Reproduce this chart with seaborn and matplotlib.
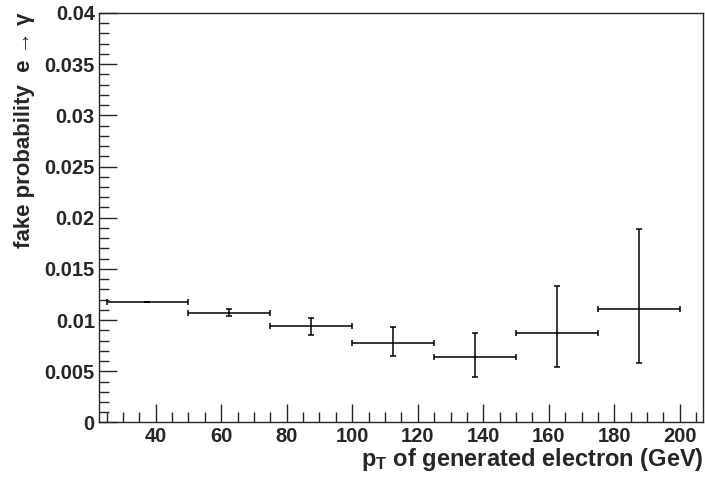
import numpy as np
import pandas as pd
import matplotlib
matplotlib.use("Agg")
import matplotlib.pyplot as plt
from matplotlib.ticker import MultipleLocator
import seaborn as sns

# bin centres / half widths (GeV) and fake probability with asymmetric errors
pt = [37.5, 62.5, 87.5, 112.5, 137.5, 162.5, 187.5]
pt_halfwidth = [12.5, 12.5, 12.5, 12.5, 12.5, 12.5, 12.5]
fake = [0.01177, 0.01072, 0.00939, 0.00779, 0.00637, 0.00874, 0.01108]
err_lo = [0.00004, 0.00032, 0.00082, 0.00130, 0.00189, 0.00335, 0.00530]
err_hi = [0.00004, 0.00036, 0.00084, 0.00151, 0.00237, 0.00459, 0.00779]

sns.set_style("ticks")
plt.rcParams["font.family"] = ["Liberation Sans", "DejaVu Sans"]
plt.rcParams["font.weight"] = "bold"
plt.rcParams["mathtext.fontset"] = "custom"
plt.rcParams["mathtext.rm"] = "Liberation Sans:bold"
plt.rcParams["mathtext.bf"] = "Liberation Sans:bold"
plt.rcParams["mathtext.it"] = "Liberation Sans:italic"

df = pd.DataFrame({"pt": pt, "fake": fake})

fig = plt.figure(figsize=(7.05, 4.80), dpi=100)
ax = fig.add_axes([0.1404, 0.1198, 0.8574, 0.8532])

ax.errorbar(pt, fake, xerr=pt_halfwidth, yerr=[err_lo, err_hi], fmt="none",
            ecolor="black", elinewidth=1.1, capsize=2.5, capthick=1.1)
sns.scatterplot(data=df, x="pt", y="fake", ax=ax, marker="s", s=1.5,
                color="black", linewidth=0, legend=False)

ax.set_xlim(22.7, 207.2)
ax.set_ylim(0, 0.04)
ax.xaxis.set_major_locator(MultipleLocator(20))
ax.xaxis.set_minor_locator(MultipleLocator(5))
ax.yaxis.set_major_locator(MultipleLocator(0.005))
ax.yaxis.set_minor_locator(MultipleLocator(0.001))
ax.yaxis.set_major_formatter(plt.FuncFormatter(lambda v, p: ("%g" % round(v, 4))))

ax.tick_params(axis="both", which="major", direction="in", length=13, width=1,
               labelsize=14.5, top=False, right=False, pad=3)
ax.tick_params(axis="both", which="minor", direction="in", length=7, width=1,
               top=False, right=False)
for lab in ax.get_xticklabels() + ax.get_yticklabels():
    lab.set_fontweight("bold")
for sp in ax.spines.values():
    sp.set_linewidth(1)
    sp.set_visible(True)

ax.set_xlabel(r"p$_{\mathregular{T}}$ of generated electron (GeV)", fontsize=17,
              fontweight="bold", loc="right")
ax.set_ylabel("fake probability  e \u2192 \u03b3", fontsize=16,
              fontweight="bold", loc="top")
ax.xaxis.set_label_coords(1.0, -0.058)
ax.yaxis.set_label_coords(-0.106, 1.0)

fig.savefig("out.png", dpi=100)
